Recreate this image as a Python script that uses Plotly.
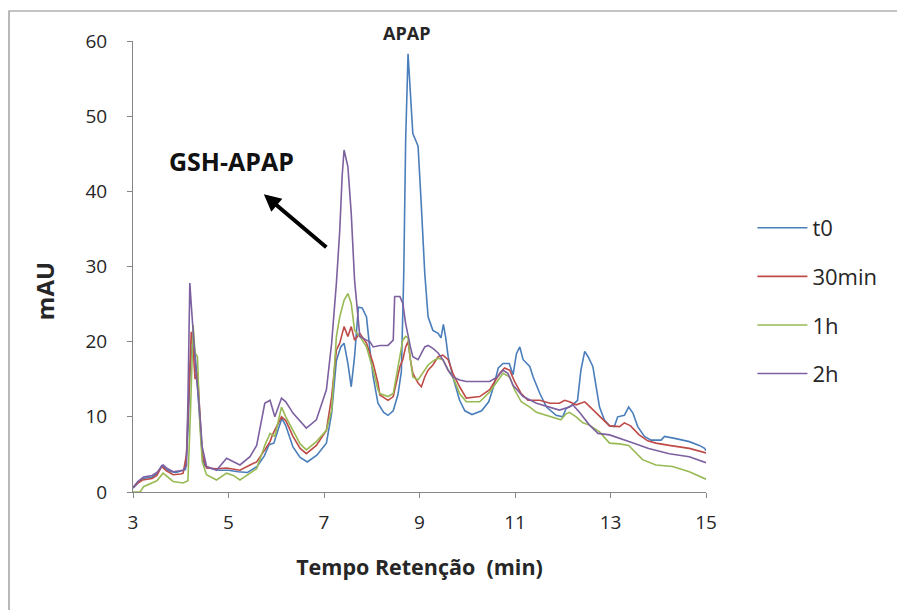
import plotly.graph_objects as go

# ---- data (retention time in min, signal in mAU) ----
t0_time = [3.0,3.1,3.2,3.4,3.5,3.6,3.7,3.8,3.9,4.0,4.1,4.15,4.2,4.25,4.3,4.35,4.4,4.45,4.5,4.6,4.8,5.0,5.2,5.4,5.6,5.75,5.85,5.95,6.05,6.12,6.2,6.35,6.5,6.65,6.85,7.05,7.16,7.26,7.35,7.42,7.5,7.57,7.64,7.72,7.8,7.89,7.96,8.03,8.13,8.25,8.34,8.45,8.55,8.62,8.67,8.71,8.76,8.81,8.86,8.92,8.97,9.04,9.11,9.18,9.28,9.39,9.45,9.5,9.55,9.6,9.7,9.84,9.95,10.1,10.3,10.45,10.55,10.65,10.75,10.88,10.96,11.03,11.1,11.17,11.31,11.38,11.52,11.66,11.86,12.0,12.07,12.21,12.31,12.38,12.46,12.53,12.63,12.7,12.77,12.87,12.98,13.08,13.15,13.29,13.38,13.47,13.57,13.71,13.85,14.06,14.13,14.37,14.65,14.86,14.97,15.0]
t0_mau = [0.5,1.2,1.8,2.0,2.4,3.5,3.0,2.7,2.6,2.8,3.0,8,17,20,18.5,14,9,5,3.5,3.2,2.9,2.9,2.7,2.6,3.4,4.8,6.3,6.5,8.5,9.8,8.8,6.0,4.6,4.0,4.9,6.5,10.5,17.5,19.3,19.8,17.1,14.0,18,24.6,24.5,23.3,19,15.3,11.8,10.6,10.2,10.8,13,16,29,46.8,58.3,53,47.7,46.8,46,37.9,29.1,23.3,21.5,21.1,20.5,22.3,20.5,18,15.3,12.2,10.8,10.3,10.8,12,14,16.5,17.1,17.1,15.6,18.4,19.3,17.6,16.7,15.3,13.1,11.3,10.2,10.0,11.1,11.6,12.2,16.2,18.7,18.0,16.7,14.0,11.3,9.6,8.8,8.7,10.0,10.2,11.3,10.5,8.7,7.4,6.9,6.9,7.4,7.1,6.7,6.2,5.8,5.5]

min30_time = [3.0,3.1,3.2,3.4,3.5,3.6,3.7,3.84,4.0,4.05,4.12,4.17,4.22,4.26,4.3,4.35,4.4,4.45,4.54,4.75,4.96,5.24,5.45,5.59,5.76,5.87,5.92,5.97,6.11,6.2,6.35,6.5,6.63,6.84,7.05,7.16,7.26,7.33,7.42,7.5,7.57,7.64,7.75,7.89,7.96,8.03,8.13,8.17,8.34,8.45,8.59,8.65,8.71,8.76,8.81,8.86,8.97,9.04,9.11,9.18,9.28,9.39,9.49,9.6,9.7,9.84,9.98,10.26,10.47,10.68,10.78,10.89,10.99,11.13,11.27,11.52,11.73,11.93,12.04,12.14,12.28,12.46,12.56,12.74,12.98,13.19,13.29,13.42,13.6,13.78,13.95,14.23,14.65,15.0]
min30_mau = [0.6,1.2,1.6,1.8,2.2,3.4,2.8,2.3,2.4,2.5,5,14,21.3,19,15,16,10,5,3.2,3.1,3.2,2.9,3.6,4.0,5.6,6.7,7.6,8.2,10.0,9.5,7.4,5.8,5.1,6.2,8.2,12.7,18.9,19.8,22.0,20.7,22.0,20.2,21.1,19.8,18.4,17.1,14.5,12.9,12.2,12.7,16.7,17.6,19.3,20.0,17.6,15.8,14.5,14.0,15.3,16.2,16.9,18.0,18.2,17.6,15.8,14.0,12.5,12.7,13.6,15.8,16.5,16.2,14.7,13.1,12.2,12.2,11.8,11.8,12.2,12.0,11.6,12.0,11.4,10.3,8.8,8.7,9.2,8.8,7.6,6.8,6.5,6.2,5.8,5.2]

h1_time = [3.0,3.15,3.22,3.4,3.5,3.63,3.75,3.84,4.05,4.15,4.2,4.26,4.3,4.35,4.4,4.45,4.54,4.75,4.96,5.1,5.24,5.45,5.59,5.76,5.87,5.97,6.11,6.2,6.35,6.5,6.63,6.84,7.05,7.16,7.26,7.33,7.42,7.5,7.57,7.64,7.75,7.89,8.03,8.13,8.17,8.34,8.45,8.59,8.65,8.71,8.76,8.81,8.86,8.97,9.11,9.18,9.3,9.39,9.49,9.6,9.7,9.84,9.98,10.26,10.47,10.68,10.75,10.89,10.99,11.13,11.31,11.45,11.66,11.86,11.96,12.07,12.14,12.28,12.42,12.56,12.77,12.98,13.19,13.38,13.5,13.67,13.95,14.3,14.65,15.0]
h1_mau = [0.0,0.0,0.7,1.2,1.5,2.5,1.8,1.4,1.2,1.5,10,22.2,18.5,18,9,4,2.3,1.6,2.5,2.2,1.6,2.5,3.1,6.2,7.8,7.4,11.3,10,8.2,6.4,5.6,6.7,8.2,10.9,20.7,23.3,25.5,26.4,25.1,21.5,20.7,19.3,16.2,13.6,13.1,12.7,13.1,18.4,20.2,20.7,20.5,17.6,15.3,14.9,16.2,16.9,17.5,17.8,17.6,16.2,15.3,13.1,12.0,12.0,13.3,15.1,15.8,15.3,13.6,12.0,11.3,10.6,10.2,9.8,9.6,10.4,10.6,10.0,9.2,8.9,8.0,6.5,6.4,6.2,5.4,4.3,3.6,3.4,2.7,1.7]

h2_time = [3.0,3.1,3.22,3.4,3.5,3.63,3.7,3.84,4.05,4.12,4.15,4.19,4.23,4.27,4.32,4.38,4.45,4.54,4.75,4.96,5.1,5.24,5.45,5.59,5.76,5.87,5.97,6.05,6.11,6.2,6.35,6.63,6.84,7.05,7.16,7.26,7.33,7.38,7.42,7.5,7.57,7.64,7.75,7.89,7.96,8.03,8.17,8.34,8.45,8.48,8.59,8.65,8.71,8.81,8.86,8.97,9.04,9.11,9.18,9.28,9.39,9.49,9.6,9.7,9.84,9.98,10.47,10.63,10.75,10.85,10.96,11.17,11.45,11.73,11.93,12.14,12.21,12.35,12.56,12.74,12.98,13.4,13.8,14.23,14.65,15.0]
h2_mau = [0.6,1.4,2.0,2.2,2.6,3.6,3.2,2.7,2.9,3.5,12,27.8,24,20,16,12,6,3.4,2.9,4.5,4.0,3.6,4.7,6.2,11.8,12.2,10.0,11.5,12.5,12.0,10.5,8.5,9.6,13.6,19.8,27.8,34.8,42,45.5,43.3,37.1,28.2,20.7,20.2,20.0,19.3,19.5,19.5,20.2,26.0,26.0,25.1,22.4,19.3,18.0,17.6,18.4,19.3,19.5,19.1,18.5,17.6,16.2,15.3,14.9,14.7,14.7,15.3,16.2,15.8,14.2,12.7,11.8,11.3,10.9,11.3,11.6,10.6,8.9,7.8,7.6,6.7,5.8,5.1,4.7,3.9]

series_names = ["t0", "30min", "1h", "2h"]
series_colors = ["#4a7ebb", "#be4b48", "#98b954", "#7d60a0"]
series_x = [t0_time, min30_time, h1_time, h2_time]
series_y = [t0_mau, min30_mau, h1_mau, h2_mau]

x_ticks = [3, 5, 7, 9, 11, 13, 15]
y_ticks = [0, 10, 20, 30, 40, 50, 60]

FONT = "Open Sans"
TXT = "#262626"

fig = go.Figure()
for name, color, xs, ys in zip(series_names, series_colors, series_x, series_y):
    fig.add_trace(go.Scatter(x=xs, y=ys, mode="lines", name=name, legendgroup=name,
                             line=dict(color=color, width=1.6)))

axis_common = dict(showline=True, linecolor="#868686", linewidth=1, ticks="outside",
                   tickcolor="#868686", ticklen=5, showgrid=False, zeroline=False,
                   tickfont=dict(family=FONT, size=19, color=TXT))

fig.update_layout(
    width=905, height=610,
    margin=dict(l=125, r=207, t=33, b=126),
    paper_bgcolor="white", plot_bgcolor="white",
    font=dict(family=FONT, color=TXT),
    xaxis=dict(range=[3, 15], tickvals=x_ticks, ticklabelstandoff=8, **axis_common,
               title=dict(text="<b>Tempo Retenção&nbsp; (min)</b>",
                          font=dict(family=FONT, size=21.5, color=TXT), standoff=26)),
    yaxis=dict(range=[0, 60], tickvals=y_ticks, ticklabelstandoff=16, **axis_common),
    legend=dict(x=1.081, y=0.632, xanchor="left", yanchor="top", tracegroupgap=17,
                font=dict(family=FONT, size=22, color=TXT), itemwidth=50,
                bgcolor="rgba(0,0,0,0)"),
    showlegend=True,
)

# chart-area border
fig.add_shape(type="rect", xref="paper", yref="paper", x0=-0.2164, y0=-0.6, x1=1.6, y1=1.0665,
              line=dict(color="#8a8a8a", width=1.2), fillcolor="rgba(0,0,0,0)", layer="below")

# y-axis title
fig.add_annotation(text="<b>mAU</b>", xref="paper", yref="paper", x=-0.153, y=0.446,
                   xanchor="center", yanchor="middle",
                   textangle=-90, showarrow=False, font=dict(family=FONT, size=24, color=TXT))

# peak labels
fig.add_annotation(text="<b>APAP</b>", x=8.73, y=1.0177, xref="x", yref="paper", showarrow=False,
                   xanchor="center", yanchor="middle",
                   font=dict(family=FONT, size=18, color=TXT))
fig.add_annotation(text="<b>GSH-APAP</b>", x=5.07, y=44.1, xref="x", yref="y", showarrow=False,
                   font=dict(family=FONT, size=25, color="#111"))
fig.add_annotation(text="", x=5.74, y=39.6, ax=7.08, ay=32.4, xref="x", yref="y",
                   axref="x", ayref="y", showarrow=True, arrowhead=2, arrowsize=0.85,
                   arrowwidth=4, arrowcolor="#000")

fig.write_html("out.html")
